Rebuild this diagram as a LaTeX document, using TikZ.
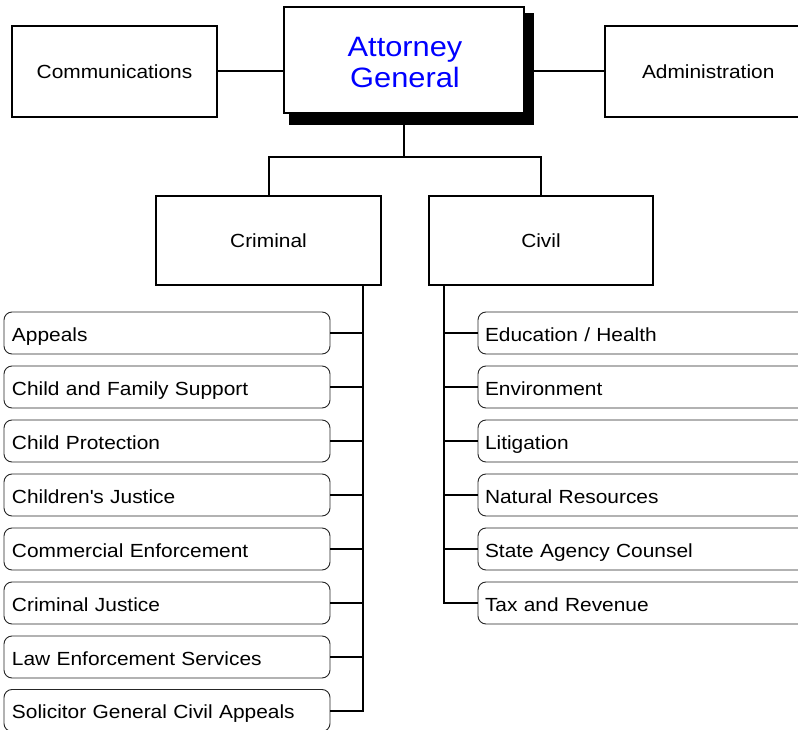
\documentclass[tikz,border=0pt]{standalone}
\usepackage{fontspec}
\setmainfont{Liberation Sans}[FakeStretch=1.1]
\begin{document}
\begin{tikzpicture}[x=1pt,y=-1pt,
  topbox/.style={draw=black,line width=1.8pt,fill=white,inner sep=0pt,
    font=\fontsize{19}{22}\selectfont},
  agbox/.style={topbox,text=blue,align=center,
    font=\fontsize{28}{31}\selectfont},
  unitbox/.style={draw=black!85,line width=0.9pt,rounded corners=8pt,fill=white,
    minimum height=42pt,inner ysep=0pt,align=left,text height=18pt,text depth=2pt,
    font=\fontsize{19}{22}\selectfont},
  leftunit/.style={unitbox,inner xsep=8pt,text width=310pt},
  rightunit/.style={unitbox,inner xsep=7pt,text width=328pt},
  conn/.style={line width=2pt,black}]
\useasboundingbox (0,0) rectangle (798,730);
% top level
\node[agbox,minimum width=240pt,minimum height=106pt] (ag) at (404,60) {};
\fill[black] ([shift={(6,7)}]ag.north west) rectangle ([shift={(9,11)}]ag.south east);
\node[agbox,minimum width=240pt,minimum height=106pt] at (404,60) {};
\node[text=blue,align=center,font=\fontsize{28}{31}\selectfont,inner sep=0pt] (agtext) at (405,63) {Attorney\\General};
\node[topbox,minimum width=205pt,minimum height=91pt] (comm) at (114.5,71.5) {Communications};
\node[topbox,minimum width=200pt,minimum height=91pt,text width=200pt,align=left] (admin) at (705,71.5) {\hspace*{37pt}Administration};
\node[topbox,minimum width=225pt,minimum height=89pt] (crim) at (268.5,240.5) {Criminal};
\node[topbox,minimum width=224pt,minimum height=89pt] (civ) at (541,240.5) {Civil};
% connectors top
\draw[conn] (comm.east) -- (comm.east -| ag.west);
\draw[conn] (ag.east |- admin.west) -- (admin.west);
\coordinate (bus) at (404,157);
\draw[conn] (ag.south) -- (bus);
\draw[conn] (crim.north) |- (bus) -| (civ.north);
% criminal units
\node[leftunit] (l1) at (167,333) {Appeals};
\node[leftunit] (l2) at (167,387) {Child and Family Support};
\node[leftunit] (l3) at (167,441) {Child Protection};
\node[leftunit] (l4) at (167,495) {Children\textquotesingle s Justice};
\node[leftunit] (l5) at (167,549) {Commercial Enforcement};
\node[leftunit] (l6) at (167,603) {Criminal Justice};
\node[leftunit] (l7) at (167,657) {Law Enforcement Services};
\node[leftunit] (l8) at (167,710.5) {Solicitor General Civil Appeals};
\coordinate (cs) at (363,0);
\draw[conn] (cs |- crim.south) -- (cs |- l8.east) -- (l8.east);
\foreach \i in {1,...,7}{\draw[conn] (l\i.east) -- (l\i.east -| cs);}
% civil units
\node[rightunit] (r1) at (649,333) {Education / Health};
\node[rightunit] (r2) at (649,387) {Environment};
\node[rightunit] (r3) at (649,441) {Litigation};
\node[rightunit] (r4) at (649,495) {Natural Resources};
\node[rightunit] (r5) at (649,549) {State Agency Counsel};
\node[rightunit] (r6) at (649,603) {Tax and Revenue};
\coordinate (vs) at (444,0);
\draw[conn] (vs |- civ.south) -- (vs |- r6.west) -- (r6.west);
\foreach \i in {1,...,5}{\draw[conn] (r\i.west) -- (r\i.west -| vs);}
\end{tikzpicture}
\end{document}
